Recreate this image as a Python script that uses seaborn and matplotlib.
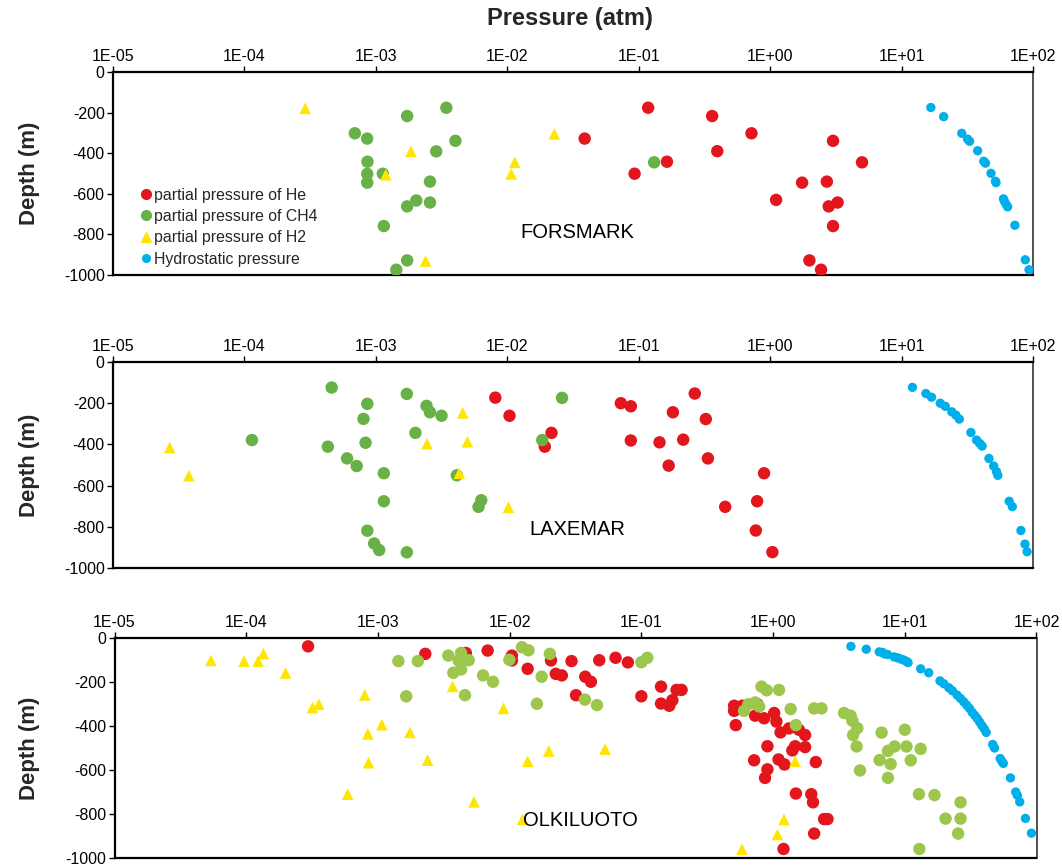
import numpy as np
import pandas as pd
import matplotlib
matplotlib.use("Agg")
import matplotlib.pyplot as plt
from matplotlib.lines import Line2D
from matplotlib.ticker import FixedLocator, FuncFormatter, NullLocator
import seaborn as sns

# ---------------- data: pressure (atm) and depth (m) ----------------
# FORSMARK
forsmark_he_p = [0.118, 0.362, 0.0388, 0.721, 3.01, 0.396, 0.164, 5.0, 0.093, 1.75,
                 2.70, 1.11, 3.26, 2.79, 3.01, 1.99, 2.44]
forsmark_he_d = [-176, -217, -328, -302, -339, -390, -442, -445, -501, -545,
                 -540, -630, -643, -662, -759, -928, -974]
forsmark_ch4_p = [3.44e-3, 1.73e-3, 6.92e-4, 8.59e-4, 4.03e-3, 2.88e-3, 8.63e-4, 8.6e-4,
                  1.13e-3, 8.6e-4, 2.58e-3, 2.03e-3, 1.73e-3, 2.58e-3, 1.15e-3, 1.73e-3,
                  1.43e-3, 0.131]
forsmark_ch4_d = [-176, -217, -302, -328, -339, -391, -442, -502,
                  -501, -545, -540, -633, -662, -643, -759, -928,
                  -974, -445]
forsmark_h2_p = [2.9e-4, 1.85e-3, 1.19e-3, 1.14e-2, 1.07e-2, 2.39e-3, 2.28e-2]
forsmark_h2_d = [-179, -391, -506, -445, -502, -931, -305]
forsmark_hyd_p = [16.7, 20.9, 28.7, 31.8, 32.9, 37.9, 42.2, 43.5, 47.9, 51.8, 52.3,
                  59.6, 60.7, 62.6, 64.1, 72.8, 87.3, 93.3]
forsmark_hyd_d = [-175, -220, -302, -331, -341, -388, -440, -449, -499, -538, -545,
                  -625, -638, -653, -664, -755, -925, -974]

# LAXEMAR
laxemar_he_p = [8.11e-3, 1.04e-2, 0.0217, 0.0193, 0.0731, 0.0871, 0.267, 0.182, 0.324,
                0.0871, 0.144, 0.218, 0.336, 0.169, 0.899, 0.455, 0.796, 0.778, 1.04]
laxemar_he_d = [-173, -261, -344, -411, -200, -215, -153, -244, -277,
                -381, -390, -377, -468, -503, -540, -703, -676, -818, -923]
laxemar_ch4_p = [4.61e-4, 1.72e-3, 8.61e-4, 2.43e-3, 2.58e-3, 3.16e-3, 8.05e-4, 2.0e-3,
                 1.14e-4, 4.31e-4, 8.35e-4, 6.04e-4, 7.15e-4, 1.15e-3, 4.13e-3, 1.15e-3,
                 6.34e-3, 6.04e-3, 8.61e-4, 9.71e-4, 1.06e-3, 1.72e-3, 0.0261, 0.01845]
laxemar_ch4_d = [-124, -155, -203, -213, -244, -261, -276, -344,
                 -379, -411, -392, -468, -505, -540, -550, -676,
                 -671, -703, -819, -881, -913, -924, -174, -379]
laxemar_h2_p = [2.70e-5, 3.78e-5, 4.58e-3, 2.45e-3, 4.97e-3, 4.31e-3, 1.02e-2]
laxemar_h2_d = [-415, -552, -247, -397, -387, -540, -705]
laxemar_hyd_p = [12.1, 15.3, 16.9, 19.7, 21.5, 24.1, 25.9, 27.5, 33.7, 37.2, 39.3,
                 41.0, 46.2, 50.2, 52.7, 54.0, 65.9, 69.6, 80.9, 86.9, 90.2]
laxemar_hyd_d = [-123, -153, -171, -200, -215, -242, -258, -277, -342, -379, -395,
                 -408, -468, -505, -532, -550, -676, -702, -818, -884, -921]

# OLKILUOTO
olkiluoto_he_p = [2.95e-4, 2.29e-3, 4.65e-3, 6.81e-3, 1.04e-2, 1.04e-2, 1.37e-2, 2.06e-2,
                  2.24e-2, 2.49e-2, 2.95e-2, 3.75e-2, 4.14e-2, 4.79e-2, 6.37e-2, 7.90e-2,
                  3.19e-2, 0.100, 0.141, 0.141, 0.185, 0.202, 0.172, 0.163,
                  0.506, 0.506, 0.585, 0.550, 0.760, 0.730, 0.855, 1.02, 1.06, 0.521,
                  1.14, 1.32, 1.57, 1.75, 0.906, 1.47, 1.75, 1.40, 0.718, 1.10,
                  1.22, 2.11, 0.906, 0.869, 1.49, 1.95, 2.01, 2.44, 2.59, 2.05, 1.20]
olkiluoto_he_d = [-38, -72, -68, -57, -80, -102, -140, -102,
                  -163, -170, -105, -176, -199, -101, -90, -111,
                  -260, -265, -221, -298, -236, -236, -283, -308,
                  -308, -331, -308, -322, -301, -353, -365, -341, -380, -396,
                  -429, -411, -417, -441, -492, -492, -496, -511, -556, -552,
                  -575, -564, -597, -636, -707, -710, -747, -823, -823, -889, -959]
olkiluoto_ch4_p = [1.43e-3, 2.01e-3, 1.64e-3,
                   3.42e-3, 4.28e-3, 4.10e-3, 4.89e-3, 4.28e-3, 3.74e-3, 4.58e-3,
                   6.28e-3, 7.48e-3, 9.95e-3, 1.24e-2, 1.39e-2, 2.02e-2, 1.75e-2, 1.61e-2,
                   3.73e-2, 4.60e-2, 0.100, 0.111,
                   0.816, 0.895, 1.11, 0.650, 0.731, 0.784, 0.602, 1.36, 2.05, 2.33, 1.49,
                   3.46, 3.88, 4.00, 4.36, 4.05, 4.31, 4.57,
                   6.67, 7.45, 8.37, 6.44, 7.81, 7.45,
                   10.0, 10.3, 13.2, 11.1, 12.8, 16.8, 26.5, 20.4, 26.5, 25.4, 12.9]
olkiluoto_ch4_d = [-105, -105, -265,
                   -80, -68, -103, -101, -143, -158, -260,
                   -170, -199, -99, -42, -56, -72, -176, -299,
                   -280, -305, -110, -90,
                   -221, -238, -236, -301, -293, -311, -331, -323, -320, -320, -396,
                   -341, -353, -376, -410, -441, -493, -602,
                   -430, -513, -493, -555, -573, -636,
                   -417, -493, -504, -556, -710, -714, -747, -821, -821, -889, -959]
olkiluoto_h2_p = [5.40e-5, 9.62e-5, 1.23e-4, 1.35e-4, 1.99e-4, 3.19e-4, 3.56e-4, 7.94e-4,
                  1.07e-3, 8.38e-4, 1.75e-3, 8.49e-4, 2.38e-3, 5.89e-4, 3.69e-3, 8.98e-3,
                  1.37e-2, 5.36e-3, 1.25e-2, 1.98e-2, 5.3e-2, 1.47, 1.21, 1.08, 0.58]
olkiluoto_h2_d = [-102, -105, -105, -71, -159, -316, -301, -259,
                  -394, -436, -429, -567, -555, -710, -220, -320,
                  -560, -745, -825, -514, -505, -560, -825, -893, -960]
olkiluoto_hyd_p = [3.9, 5.1, 6.4, 6.8, 7.0, 7.4, 8.3, 8.8, 9.3, 9.8, 10.3, 10.6,
                   13.2, 15.2, 18.5, 19.8, 21.6, 23.0, 25.0, 26.5, 28.0, 29.5, 31.0,
                   32.5, 34.0, 35.5, 37.0, 38.5, 40.0, 41.5, 46.5, 48.0, 53.0, 54.5,
                   56.0, 63.4, 69.5, 71.5, 74.6, 82.4, 91.5]
olkiluoto_hyd_d = [-38, -51, -63, -66, -72, -75, -86, -90, -95, -100, -106, -112,
                   -140, -158, -195, -208, -226, -240, -260, -275, -290, -305, -320,
                   -338, -352, -366, -382, -398, -412, -429, -484, -500, -548, -560,
                   -570, -636, -700, -715, -745, -820, -887]

series_names = ["partial pressure of He", "partial pressure of CH4",
                "partial pressure of H2", "Hydrostatic pressure"]
x_decades = [-5, -4, -3, -2, -1, 0, 1, 2]
depth_ticks = [0, -200, -400, -600, -800, -1000]

# ---------------- style ----------------
sns.set_style("ticks")
plt.rcParams["font.family"] = ["Liberation Sans", "DejaVu Sans"]

RED = "#e3161d"
GREEN = "#67b146"
GREEN_LIGHT = "#9cc74c"
YELLOW = "#ffe600"
BLUE = "#00aeea"

W, H = 1062, 866
fig = plt.figure(figsize=(W / 100, H / 100), dpi=100)


def px_rect(left, top, right, bottom):
    """Axes rectangle from pixel edges measured from the top-left corner."""
    return [left / W, 1 - bottom / H, (right - left) / W, (bottom - top) / H]


panels = [
    ("FORSMARK", px_rect(113, 72, 1033, 275), GREEN,
     (forsmark_he_p, forsmark_he_d), (forsmark_ch4_p, forsmark_ch4_d),
     (forsmark_h2_p, forsmark_h2_d), (forsmark_hyd_p, forsmark_hyd_d), 0.21),
    ("LAXEMAR", px_rect(113, 362, 1033, 568), GREEN,
     (laxemar_he_p, laxemar_he_d), (laxemar_ch4_p, laxemar_ch4_d),
     (laxemar_h2_p, laxemar_h2_d), (laxemar_hyd_p, laxemar_hyd_d), 0.185),
    ("OLKILUOTO", px_rect(114.5, 638, 1036.5, 858), GREEN_LIGHT,
     (olkiluoto_he_p, olkiluoto_he_d), (olkiluoto_ch4_p, olkiluoto_ch4_d),
     (olkiluoto_h2_p, olkiluoto_h2_d), (olkiluoto_hyd_p, olkiluoto_hyd_d), 0.17),
]


def fmt_decade(v, pos):
    e = int(round(np.log10(v)))
    return f"1E{e:+03d}"


axes = []
for site, rect, green, he, ch4, h2, hyd, label_y in panels:
    ax = fig.add_axes(rect)
    axes.append(ax)
    layers = [
        (he, RED, "o", 80),
        (ch4, green, "o", 80),
        (h2, YELLOW, "^", 70),
        (hyd, BLUE, "o", 45),
    ]
    for (p, d), color, marker, size in layers:
        df = pd.DataFrame({"pressure": p, "depth": d})
        sns.scatterplot(data=df, x="pressure", y="depth", ax=ax, color=color,
                        marker=marker, s=size, linewidth=0, edgecolor="none",
                        legend=False, zorder=3)

    ax.set_xscale("log")
    ax.set_xlim(1e-5, 1e2)
    ax.set_ylim(-1000, 0)
    ax.xaxis.set_major_locator(FixedLocator([10.0 ** e for e in x_decades]))
    ax.xaxis.set_minor_locator(NullLocator())
    ax.xaxis.set_major_formatter(FuncFormatter(fmt_decade))
    ax.xaxis.tick_top()
    ax.set_yticks(depth_ticks)
    ax.set_yticklabels([str(t) for t in depth_ticks])
    ax.tick_params(axis="both", labelsize=11.5, colors="black", length=4,
                   width=1.0, direction="out", pad=2)
    ax.set_xlabel("")
    ax.set_ylabel("")
    for side in ["top", "left", "bottom"]:
        ax.spines[side].set_color("black")
        ax.spines[side].set_linewidth(1.6)
    ax.spines["right"].set_color("#333333")
    ax.spines["right"].set_linewidth(1.2)
    ax.text(0.505, label_y, site, transform=ax.transAxes, ha="center",
            va="center", fontsize=14.5, color="black", zorder=5)

    # depth label beside each panel
    y_mid = rect[1] + rect[3] / 2
    fig.text(30 / W, y_mid, "Depth (m)", rotation=90, ha="center",
             va="center", fontsize=16, fontweight="bold")

# legend in the first panel
handles = [
    Line2D([], [], linestyle="none", marker="o", color=RED, markersize=7),
    Line2D([], [], linestyle="none", marker="o", color=GREEN, markersize=7),
    Line2D([], [], linestyle="none", marker="^", color=YELLOW, markersize=7),
    Line2D([], [], linestyle="none", marker="o", color=BLUE, markersize=5.5),
]
axes[0].legend(handles, series_names, loc="upper left",
               bbox_to_anchor=(0.030, 0.431), frameon=False, fontsize=11.4,
               handlelength=0.7, handletextpad=0.15, labelspacing=0.405,
               borderaxespad=0, borderpad=0)

fig.text(570 / W, 1 - 18 / H, "Pressure (atm)", ha="center", va="center",
         fontsize=17, fontweight="bold")

fig.savefig("out.png", dpi=100)
